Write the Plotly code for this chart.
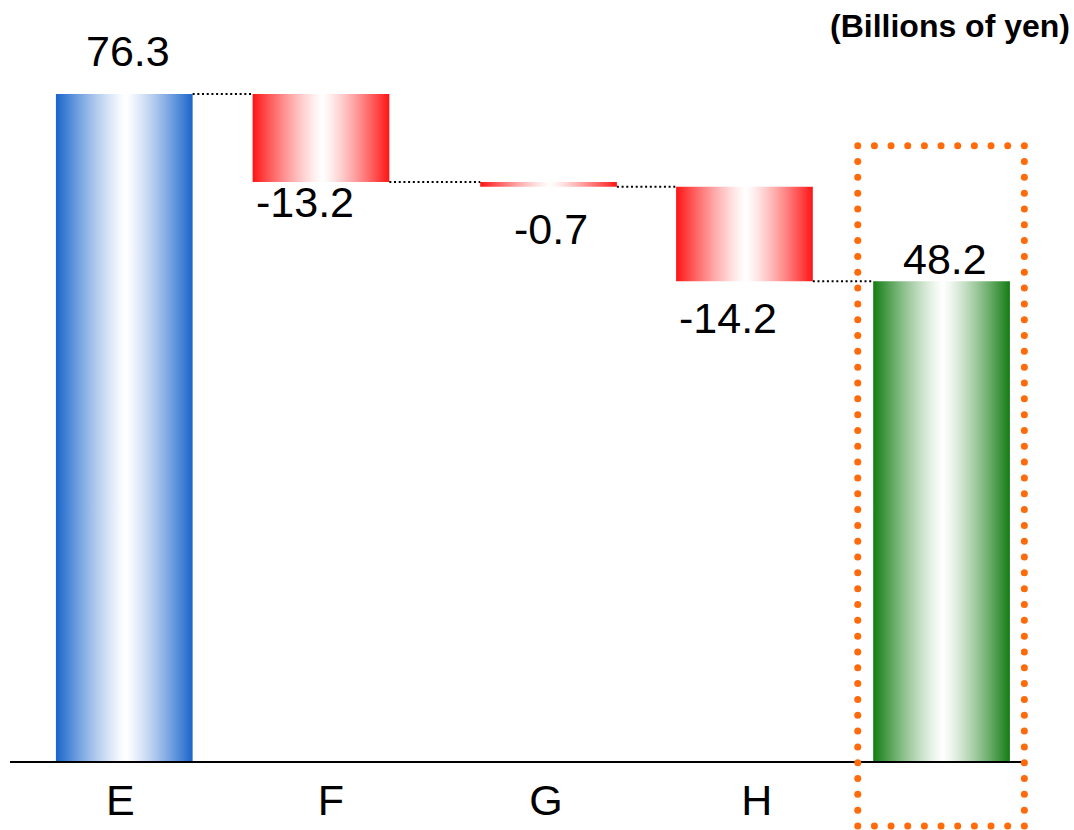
import numpy as np
import plotly.graph_objects as go

# ---- data ----
categories = ["E", "F", "G", "H", ""]
values = [76.3, -13.2, -0.7, -14.2, 48.2]
measures = ["absolute", "relative", "relative", "relative", "total"]
unit_label = "(Billions of yen)"

# ---- style / layout parameters ----
x_pos = [0.0, 1.0, 2.157, 3.153, 4.155]          # bar centres (axis units)
tick_pos = [-0.02, 1.051, 2.144, 3.215, 4.155]    # category label centres
bar_w = 0.695
edge_colors = ["#1864cc", "#ff1414", "#ff1414", "#ff1414", "#137d13"]
label_dx = [4, -16, 2, -16, 3]          # px
label_dy = [43, -20, -42, -37, 22]      # px (positive = up)
FONT = "Liberation Sans, Arial, sans-serif"

W, H = 1074, 830
PL, PR, PT, PB = 10, 1022, 0, 761        # plot area in px
X_RANGE = [-0.581, 4.564]
Y_RANGE = [-23.77, 90.40]
px_x = (PR - PL) / (X_RANGE[1] - X_RANGE[0])
px_y = (PB - PT) / (Y_RANGE[1] - Y_RANGE[0])
floor = Y_RANGE[0]


def gradient_scale(hex_color, n=12, power=1.25, center=0.51):
    """Edge colour -> white at centre -> edge colour, with a soft peak."""
    r, g, b = (int(hex_color[i:i + 2], 16) for i in (1, 3, 5))
    def mix(u):
        w = 1 - (1 - u) ** power
        return "#%02x%02x%02x" % tuple(int(round(c + (255 - c) * w)) for c in (r, g, b))
    stops = [[center * k / n, mix(k / n)] for k in range(n + 1)]
    stops += [[1 - (1 - center) * k / n, mix(k / n)] for k in range(n - 1, -1, -1)]
    return stops


# ---- waterfall geometry from data ----
bottoms, tops, levels = [], [], []
running = 0.0
for v, m in zip(values, measures):
    if m == "absolute":
        running = v
        b, t = floor, v
    elif m == "total":
        b, t = floor, running
    else:
        b, t = running + v, running
        running += v
    bottoms.append(b)
    tops.append(t)
    levels.append(running)

fig = go.Figure()

for i, (x, b, t, c) in enumerate(zip(x_pos, bottoms, tops, edge_colors)):
    x0, x1 = x - bar_w / 2, x + bar_w / 2
    fig.add_trace(go.Scatter(
        x=[x0, x1, x1, x0, x0], y=[b, b, t, t, b],
        mode="lines", line=dict(width=0), fill="toself",
        fillgradient=dict(type="horizontal", colorscale=gradient_scale(c)),
        hoverinfo="skip", showlegend=False))

# connectors
for i in range(len(values) - 1):
    lvl = levels[i]
    fig.add_trace(go.Scatter(
        x=[x_pos[i] + bar_w / 2, x_pos[i + 1] - bar_w / 2], y=[lvl, lvl],
        mode="lines", line=dict(color="#000000", width=2, dash="2px,2.7px"),
        hoverinfo="skip", showlegend=False))

# value labels
for i, v in enumerate(values):
    yv = tops[i] if v >= 0 else bottoms[i]
    fig.add_annotation(x=x_pos[i], y=yv, text=f"{v:.1f}", showarrow=False,
                       xshift=label_dx[i], yshift=label_dy[i],
                       font=dict(family=FONT, size=43, color="#000000"),
                       xanchor="center", yanchor="middle")

# orange dotted highlight box around the total bar (round dots), drawn on an
# overlay subplot that covers the whole page with the same scale
xc = x_pos[-1]
bx0, bx1 = xc - 83.8 / px_x, xc + 82.8 / px_x
by1 = tops[-1] + 135.6 / px_y
by0 = floor - 65.0 / px_y
step = 16.0
def edge(xa, ya, xb, yb):
    L = np.hypot((xb - xa) * px_x, (yb - ya) * px_y)
    n = max(int(round(L / step)), 1)
    t = np.linspace(0, 1, n + 1)[:-1]
    return list(xa + (xb - xa) * t), list(ya + (yb - ya) * t)
bxs, bys = [], []
for (xa, ya, xb, yb) in [(bx0, by1, bx1, by1), (bx1, by1, bx1, by0),
                         (bx1, by0, bx0, by0), (bx0, by0, bx0, by1)]:
    ex, ey = edge(xa, ya, xb, yb)
    bxs += ex
    bys += ey
fig.add_trace(go.Scatter(x=bxs, y=bys, mode="markers", xaxis="x2", yaxis="y2",
                         marker=dict(size=7, color="#ff6a0a", line=dict(width=0)),
                         hoverinfo="skip", showlegend=False))

fig.add_annotation(xref="paper", yref="paper", x=1072 / W, y=1 - 6 / H,
                   text="<b>" + unit_label + "</b>", showarrow=False,
                   xanchor="right", yanchor="top",
                   font=dict(family=FONT, size=32, color="#000000"))

X2_RANGE = [X_RANGE[0] - PL / px_x, X_RANGE[1] + (W - PR) / px_x]
Y2_RANGE = [Y_RANGE[0] - (H - PB) / px_y, Y_RANGE[1] + PT / px_y]

fig.update_layout(
    width=W, height=H,
    margin=dict(l=0, r=0, t=0, b=0),
    plot_bgcolor="rgba(0,0,0,0)", paper_bgcolor="#ffffff",
    showlegend=False,
    xaxis=dict(domain=[PL / W, PR / W], range=X_RANGE,
               tickvals=tick_pos, ticktext=categories,
               showgrid=False, zeroline=False, showline=True,
               linecolor="#000000", linewidth=2, ticks="",
               tickfont=dict(family=FONT, size=43, color="#000000"),
               fixedrange=True),
    yaxis=dict(domain=[1 - PB / H, 1 - PT / H], range=Y_RANGE, visible=False,
               showgrid=False, zeroline=False, fixedrange=True),
    xaxis2=dict(domain=[0, 1], range=X2_RANGE, anchor="y2", visible=False,
                showgrid=False, zeroline=False, fixedrange=True),
    yaxis2=dict(domain=[0, 1], range=Y2_RANGE, anchor="x2", visible=False,
                showgrid=False, zeroline=False, fixedrange=True),
)

fig.write_html("out.html")
